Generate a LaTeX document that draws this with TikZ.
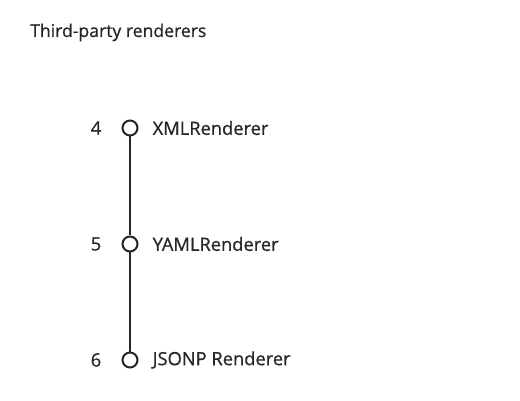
\documentclass[tikz,border=0pt]{standalone}
\usepackage{fontspec}
\setmainfont{Open Sans}[FakeBold=0.7]
\usetikzlibrary{positioning}

\begin{document}
\begin{tikzpicture}[
    x=1pt,
    y=-1pt,
    every node/.style={text=black!85},
    stop/.style={circle, draw=black!85, line width=2pt, minimum size=15pt, inner sep=0pt, fill=white},
    num/.style={font=\fontsize{18.5}{20}\selectfont, inner sep=0pt},
    lbl/.style={font=\fontsize{18.3}{20}\selectfont, inner sep=0pt, anchor=west}]

    \useasboundingbox[fill=white] (0,0) rectangle (520,401);

    \node[anchor=base west, inner sep=0pt, font=\fontsize{17.6}{20}\selectfont] (Title) at (30,37) {Third-party renderers};

    \node[stop] (S4) at (130,128) {};
    \node[stop] (S5) at (130,244) {};
    \node[stop] (S6) at (130,360) {};

    \node[num, left=20pt of S4]  (N4) {4};
    \node[num, left=20pt of S5]  (N5) {5};
    \node[num, left=20pt of S6]  (N6) {6};

    \node[lbl, right=14pt of S4] (L4) {XMLRenderer};
    \node[lbl, right=14pt of S5] (L5) {YAMLRenderer};
    \node[lbl, right=14pt of S6] (L6) {JSONP Renderer};

    \draw[line width=2pt, draw=black!85] (S4) -- (S5) -- (S6);
\end{tikzpicture}
\end{document}
